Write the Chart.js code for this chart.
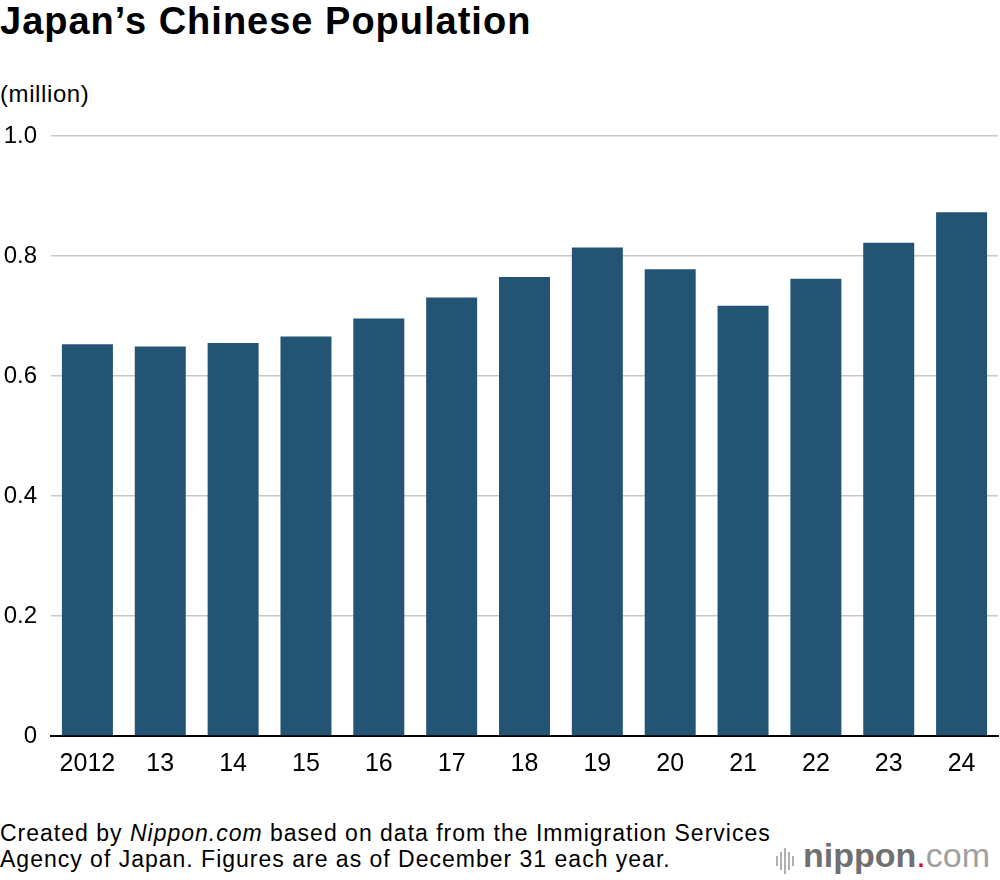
<!DOCTYPE html>
<html>
<head>
<meta charset="utf-8">
<script src="https://cdn.jsdelivr.net/npm/chart.js@4"></script>
<style>
  html, body { margin: 0; padding: 0; background: #fff; }
  body { width: 1000px; height: 880px; position: relative; overflow: hidden; font-family: "Liberation Sans", Arial, sans-serif; color: #000; }
  #title { position: absolute; left: 0; top: 0px; font-size: 38px; font-weight: bold; letter-spacing: 1px; }
  #unit { position: absolute; left: 0; top: 80px; font-size: 24px; letter-spacing: 0.6px; }
  #chartBox { position: absolute; left: 0; top: 100px; width: 1000px; height: 700px; }
  #footer { position: absolute; left: 0; top: 820px; font-size: 23px; line-height: 26px; letter-spacing: 1px; white-space: nowrap; }
  #logo { position: absolute; left: 776px; top: 836px; font-size: 34px; color: #707070; white-space: nowrap; }
  #logo .wave { display: inline-block; vertical-align: middle; margin-right: 7px; }
  #logo .wave i { display: inline-block; width: 2px; background: #b0b0b0; margin-right: 2px; vertical-align: middle; }
  #logo .nip { font-weight: bold; }
  #logo .dot { color: #e60012; }
  #logo .com { color: #a0a0a0; }
</style>
</head>
<body>
<div id="title">Japan’s Chinese Population</div>
<div id="unit">(million)</div>
<div id="chartBox"><canvas id="popChart"></canvas></div>
<div id="footer">Created by <i>Nippon.com</i> based on data from the Immigration Services<br>Agency of Japan. Figures are as of December 31 each year.</div>
<div id="logo"><span class="wave"><i style="height:10px"></i><i style="height:18px"></i><i style="height:26px"></i><i style="height:18px"></i><i style="height:10px"></i></span><span class="nip">nippon</span><span class="dot">.</span><span class="com">com</span></div>

<script>
// Chinese residents in Japan, end of year (millions)
const years = ['2012', '13', '14', '15', '16', '17', '18', '19', '20', '21', '22', '23', '24'];
const population = [0.653, 0.649, 0.655, 0.666, 0.696, 0.731, 0.765, 0.814, 0.778, 0.717, 0.762, 0.822, 0.873];
const yTicks = [0, 0.2, 0.4, 0.6, 0.8, 1.0];

const ctx = document.getElementById('popChart').getContext('2d');
const popChart = new Chart(ctx, {
    type: 'bar',
    data: {
        labels: years,
        datasets: [{
            data: population,
            backgroundColor: '#235473',
            categoryPercentage: 0.7,
            barPercentage: 1.0
        }]
    },
    options: {
        responsive: true,
        maintainAspectRatio: false,
        animation: false,
        layout: { padding: { top: 36, right: 2, left: 0, bottom: 0 } },
        plugins: {
            legend: { display: false },
            tooltip: { enabled: false }
        },
        scales: {
            x: {
                grid: { display: false, drawTicks: false },
                border: { display: true, color: '#000', width: 2 },
                ticks: {
                    color: '#000',
                    padding: 13,
                    font: { family: 'Liberation Sans', size: 25 }
                },
                afterFit: function(scale) { scale.height = 64; }
            },
            y: {
                min: 0,
                max: 1.0,
                afterBuildTicks: function(scale) {
                    scale.ticks = yTicks.map(v => ({ value: v }));
                },
                grid: {
                    drawTicks: false,
                    lineWidth: 1.5,
                    color: c => (c.tick && c.tick.value === 0) ? 'rgba(0,0,0,0)' : '#c8c8c8'
                },
                border: { display: false },
                ticks: {
                    color: '#000',
                    padding: 14,
                    font: { family: 'Liberation Sans', size: 24 },
                    callback: v => v === 0 ? '0' : v.toFixed(1)
                },
                afterFit: function(scale) { scale.width = 51; }
            }
        }
    }
});
</script>
</body>
</html>
